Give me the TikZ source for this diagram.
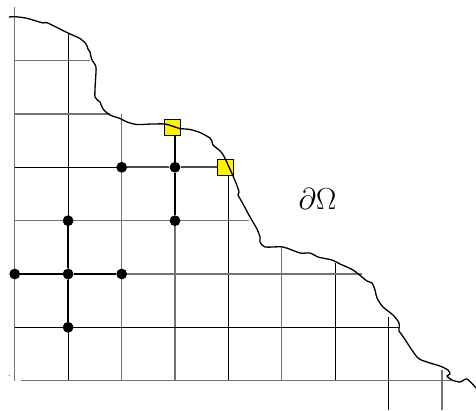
\documentclass[tikz,border=0pt]{standalone}
\begin{document}
\begin{tikzpicture}[x=1pt,y=-1pt,
  gline/.style={draw=black!55,line width=1.1pt},
  bline/.style={draw=black,line width=0.7pt},
  edgeline/.style={draw=black,line width=1.7pt},
  gedge/.style={draw=black!70,line width=1.7pt},
  dotnode/.style={circle,fill=black,inner sep=0pt,minimum size=10.8pt},
  sqnode/.style={rectangle,draw=black,fill=yellow,line width=0.6pt,inner sep=0pt,minimum size=16pt},
  boundary/.style={draw=black,line width=1.3pt,line join=round,line cap=round}]
\useasboundingbox (0,0) rectangle (476,410);
% grid, vertical
\draw[gline] (14.7,7) -- (14.7,380.7);
\draw[bline] (68.1,33) -- (68.1,380.7);
\draw[gline] (121.7,114) -- (121.7,380.7);
\draw[gline] (175,220.7) -- (175,380.7);
\draw[bline] (228.4,175) -- (228.4,380.7);
\draw[gline] (281.8,246.7) -- (281.8,380.7);
\draw[bline] (335.2,263) -- (335.2,380.7);
\draw[bline] (388.6,316.7) -- (388.6,410);
\draw[gline] (442,370) -- (442,410);
% grid, horizontal
\draw[gline] (14.7,60.5) -- (90,60.5);
\draw[gline] (14.7,114) -- (110,114);
\draw[bline] (14.7,167.3) -- (121.7,167.3);
\draw[gline] (14.7,220.7) -- (249.3,220.7);
\draw[gline] (121.7,274) -- (361.7,274);
\draw[bline] (14.7,327.3) -- (398.3,327.3);
\draw[gline] (20.7,380.7) -- (451.7,380.7);
% small speck
\fill[black!60] (9.3,375.5) circle (0.6);
% nodes
\node[dotnode] (a) at (121.7,167.3) {};
\node[dotnode] (b) at (175,167.3) {};
\node[dotnode] (c) at (68.1,220.7) {};
\node[dotnode] (d) at (175,220.7) {};
\node[dotnode] (e) at (14.7,274) {};
\node[dotnode] (f) at (68.1,274) {};
\node[dotnode] (g) at (121.7,274) {};
\node[dotnode] (h) at (68.1,327.3) {};
\node[sqnode] (s1) at (172.5,127) {};
\node[sqnode] (s2) at (225.5,167.3) {};
% edges
\draw[gedge] (a) -- (b);
\draw[gedge] (b) -- (s2);
\draw[edgeline] (s1.south -| b) -- (b);
\draw[edgeline] (b) -- (d);
\draw[edgeline] (c) -- (f);
\draw[edgeline] (f) -- (h);
\draw[edgeline] (e) -- (f);
\draw[edgeline] (f) -- (g);
% boundary curve
\draw[boundary] plot[smooth,tension=0.45] coordinates {
(9.3,17) (15,16.7) (27,18.3) (43,23) (47,22.7) (68,33) (80,38.5) (86,44) (88,49) (90,52) (91,57) (92,60) (96,67) (95.5,80) (95,97) (100,102) (103,109) (110,115) (120,118.5) (127,122) (137,124.5) (152,124) (165,124) (172,126) (180,128.5) (190,129.5) (200,132.5) (210,138) (212,141) (213,145) (222,153) (229,167) (236,183) (239,192) (238,195) (242,202) (250,217) (257,229) (260,237) (260,242) (265,247) (283,247) (300,253) (310,253) (318,257) (332,260) (340,264) (353,270) (367,281) (372,283) (375,290) (377,298) (383,307) (393,315) (399,323) (399,331) (402,335) (417,357) (427,362) (440,366) (448,370) (450,374) (447,376) (452,380) (460,382) (467,379) (476,388)};
\node[font=\fontsize{24.88}{26}\selectfont,scale=1.22] (lab) at (317.5,198.5) {$\partial\Omega$};
\end{tikzpicture}
\end{document}
